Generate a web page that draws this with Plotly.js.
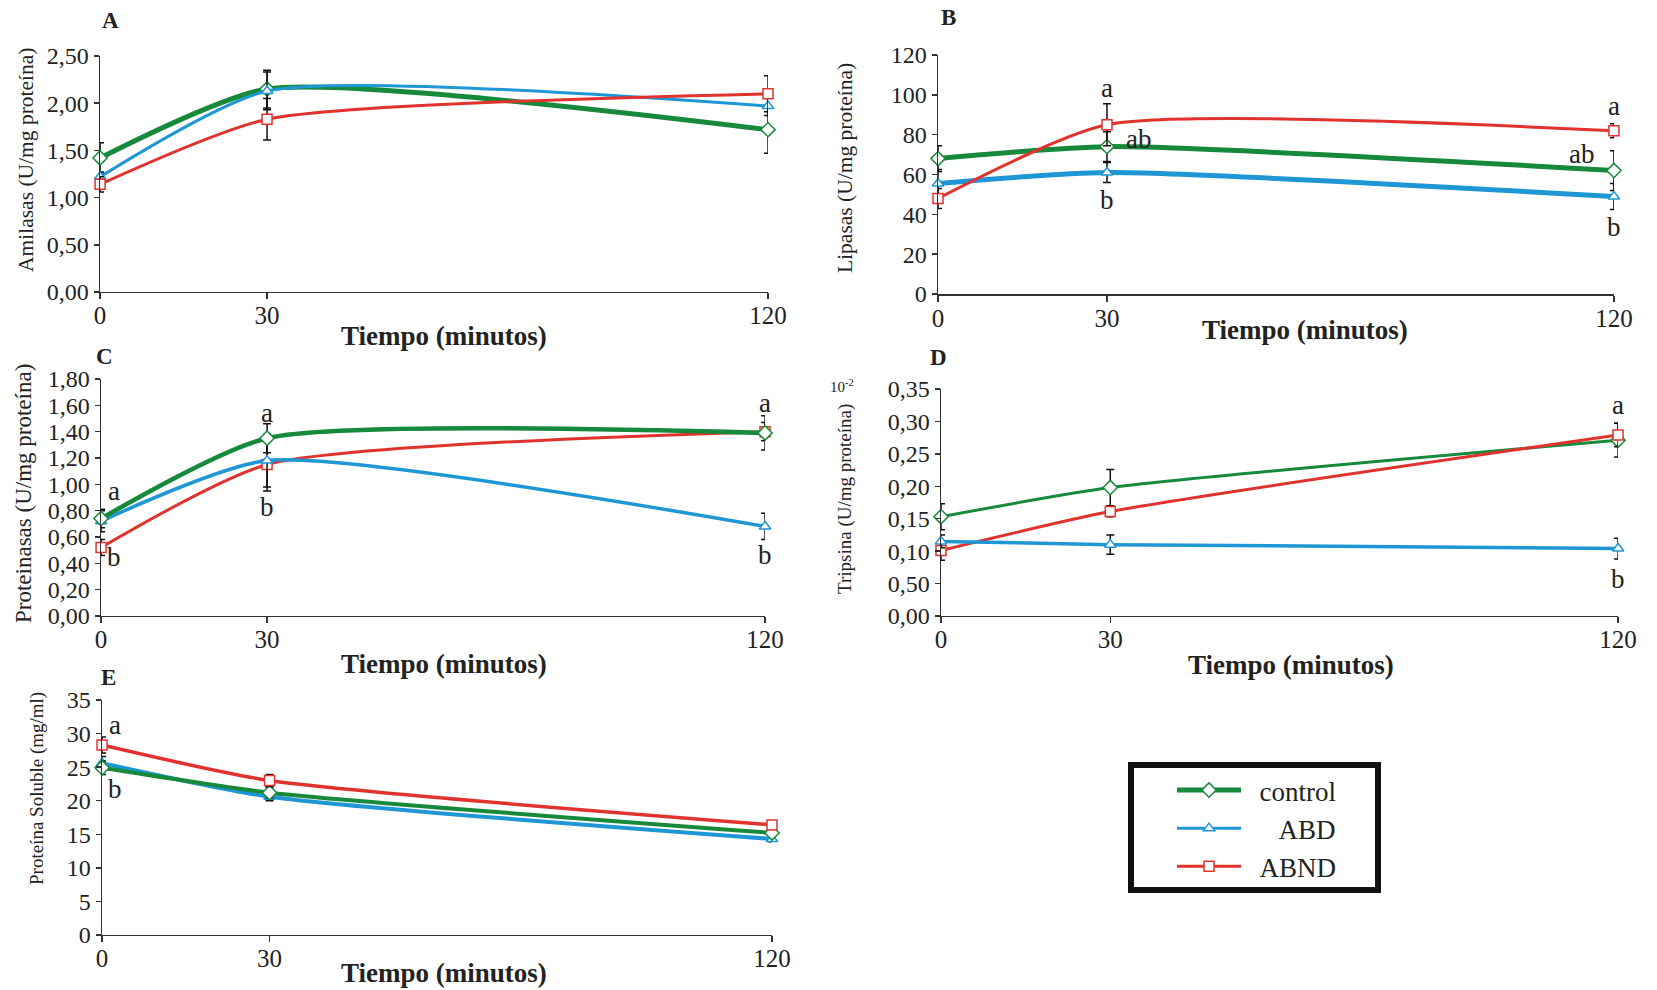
<!DOCTYPE html>
<html><head><meta charset="utf-8">
<script src="https://cdn.plot.ly/plotly-3.0.1.min.js"></script>
<style>html,body{margin:0;padding:0;background:#fff}#chart{width:1657px;height:990px}</style>
</head><body><div id="chart"></div>
<script>
// ---- data ----
const tiempo = [0, 30, 120];
const series = ['control', 'ABD', 'ABND'];

// A: Amilasas
const amilControl = [1.42, 2.15, 1.72];
const amilABD     = [1.22, 2.13, 1.97];
const amilABND    = [1.14, 1.83, 2.10];
const amilControlErr = [0.16, 0.20, 0.25];
const amilABDErr     = [0.05, 0.20, 0.10];
const amilABNDErr    = [0.08, 0.22, 0.19];

// B: Lipasas
const lipControl = [68, 74, 62];
const lipABD     = [55.5, 61, 49];
const lipABND    = [48, 85, 82];
const lipControlErr = [6.5, 7.5, 10];
const lipABDErr     = [7, 5, 6.5];
const lipABNDErr    = [5, 10.5, 3.5];

// C: Proteinasas
const protControl = [0.74, 1.35, 1.39];
const protABD     = [0.72, 1.18, 0.68];
const protABND    = [0.52, 1.15, 1.40];
const protControlErr = [0.07, 0.11, 0.13];
const protABDErr     = [0.08, 0.20, 0.10];
const protABNDErr    = [0.06, 0.20, 0.07];

// D: Tripsina (x10^-2)
const tripControl = [0.153, 0.198, 0.271];
const tripABD     = [0.115, 0.110, 0.104];
const tripABND    = [0.101, 0.161, 0.279];
const tripControlErr = [0.020, 0.028, 0.026];
const tripABDErr     = [0.010, 0.015, 0.016];
const tripABNDErr    = [0.015, 0.008, 0.018];
const tripTickVals = [0, 0.05, 0.10, 0.15, 0.20, 0.25, 0.30, 0.35];
const tripTickText = ['0,00', '0,50', '0,10', '0,15', '0,20', '0,25', '0,30', '0,35'];

// E: Proteína soluble
const solControl = [24.9, 21.2, 15.2];
const solABD     = [25.6, 20.6, 14.3];
const solABND    = [28.3, 23.0, 16.4];
const solControlErr = [1.0, 0.8, 0.5];
const solABDErr     = [1.0, 0.6, 0.4];
const solABNDErr    = [1.2, 0.9, 0.5];

// titles
const xTitle = 'Tiempo (minutos)';
const yTitles = ['Amilasas (U/mg proteína)', 'Lipasas (U/mg proteína)', 'Proteinasas (U/mg proteína)', 'Tripsina (U/mg proteína)', 'Proteína Soluble (mg/ml)'];
const panelLetters = ['A', 'B', 'C', 'D', 'E'];

// significance letters [x, y, text, xshift]
const lettersB = [[30, 103.5, 'a', 0], [30, 78, 'ab', 32], [30, 47, 'b', 0], [120, 94.5, 'a', 0], [120, 70.5, 'ab', -32], [120, 33.5, 'b', 0]];
const lettersC = [[0, 0.95, 'a', 13], [0, 0.45, 'b', 13], [30, 1.54, 'a', 0], [30, 0.83, 'b', 0], [120, 1.62, 'a', 0], [120, 0.46, 'b', 0]];
const lettersD = [[120, 0.325, 'a', 0], [120, 0.057, 'b', 0]];
const lettersE = [[0, 31.3, 'a', 13], [0, 21.8, 'b', 13]];

// ---- style ----
const colors = {control: '#17893a', ABD: '#1f97d4', ABND: '#e0332e'};
const symbols = {control: 'diamond', ABD: 'triangle-up', ABND: 'square'};
const legendPad = {control: '\u2002', ABD: '\u2002\u2002\u2009', ABND: '\u2002'};
const serif = 'Liberation Serif';
const txt = '#222';
const smooth = 0.6;
const W = 1657, H = 990;

function mk(name, y, err, xa, ya, width, show) {
  return {
    x: tiempo, y: y, name: legendPad[name] + name, xaxis: xa, yaxis: ya, type: 'scatter', mode: 'lines+markers',
    line: {color: colors[name], width: width, shape: 'spline', smoothing: smooth},
    marker: {symbol: symbols[name], size: name === 'control' ? 11 : 10, color: '#fff', line: {color: colors[name], width: 1.5}},
    error_y: {type: 'data', array: err, visible: true, color: '#111', thickness: 1.5, width: 4},
    cliponaxis: false, showlegend: show, legendgroup: name
  };
}

const traces = [
  mk('control', amilControl, amilControlErr, 'x', 'y', 5, true),
  mk('ABD', amilABD, amilABDErr, 'x', 'y', 3, true),
  mk('ABND', amilABND, amilABNDErr, 'x', 'y', 3, true),
  mk('ABD', lipABD, lipABDErr, 'x2', 'y2', 5, false),
  mk('control', lipControl, lipControlErr, 'x2', 'y2', 5, false),
  mk('ABND', lipABND, lipABNDErr, 'x2', 'y2', 3, false),
  mk('ABND', protABND, protABNDErr, 'x3', 'y3', 3, false),
  mk('ABD', protABD, protABDErr, 'x3', 'y3', 3.5, false),
  mk('control', protControl, protControlErr, 'x3', 'y3', 4.5, false),
  mk('control', tripControl, tripControlErr, 'x4', 'y4', 3, false),
  mk('ABND', tripABND, tripABNDErr, 'x4', 'y4', 3, false),
  mk('ABD', tripABD, tripABDErr, 'x4', 'y4', 3.5, false),
  mk('ABD', solABD, solABDErr, 'x5', 'y5', 4, false),
  mk('control', solControl, solControlErr, 'x5', 'y5', 4, false),
  mk('ABND', solABND, solABNDErr, 'x5', 'y5', 3.5, false)
];

function xax(domain, anchor) {
  return {domain: domain, anchor: anchor, range: [0, 120], tickvals: tiempo, ticks: 'outside', ticklen: 6, tickwidth: 1.5,
    tickcolor: '#333', showline: true, linecolor: '#333', linewidth: 1.5, showgrid: false, zeroline: false,
    tickfont: {family: serif, size: 25, color: txt}, ticklabelstandoff: -5};
}
function yax(domain, anchor, range, dtick, fmt) {
  return {domain: domain, anchor: anchor, range: range, dtick: dtick, tickformat: fmt, ticks: 'outside', ticklen: 5, tickwidth: 1.5,
    tickcolor: '#333', showline: true, linecolor: '#333', linewidth: 1.5, showgrid: false, zeroline: false,
    tickfont: {family: serif, size: 24, color: txt}};
}

const yD = yax([0.3778, 0.6071], 'x4', [0, 0.35], 0.05, '');
yD.tickmode = 'array'; yD.tickvals = tripTickVals; yD.ticktext = tripTickText;

const annotations = [];
function paperText(text, px, py, size, angle) {
  annotations.push({x: px / W, y: 1 - py / H, xref: 'paper', yref: 'paper', text: text, showarrow: false,
    xanchor: 'center', yanchor: 'middle', textangle: angle || 0, font: {family: serif, size: size, color: txt}});
}
function letters(list, xr, yr) {
  list.forEach(l => annotations.push({x: l[0], y: l[1], xref: xr, yref: yr, text: l[2], showarrow: false, xshift: l[3],
    xanchor: 'center', yanchor: 'middle', font: {family: serif, size: 27, color: txt}}));
}
letters(lettersB, 'x2', 'y2');
letters(lettersC, 'x3', 'y3');
letters(lettersD, 'x4', 'y4');
letters(lettersE, 'x5', 'y5');

// panel letters
[[111, 20], [948, 17], [104, 356], [938, 357], [108, 677]].forEach((p, i) => paperText('<b>' + panelLetters[i] + '</b>', p[0], p[1], 23));
// x titles
[[444, 336], [1305, 330], [444, 664], [1291, 665], [444, 973]].forEach(p => paperText('<b>' + xTitle + '</b>', p[0], p[1], 27));
// y titles
[[26, 160, 21.5], [845, 168, 21.5], [23, 494, 23], [845, 499, 19], [37, 789, 19]].forEach((p, i) => paperText(yTitles[i], p[0], p[1], p[2], -90));
paperText('10<sup>-2</sup>', 842, 386, 15);

const layout = {
  width: W, height: H, margin: {l: 0, r: 0, t: 0, b: 0}, paper_bgcolor: '#fff', plot_bgcolor: '#fff',
  font: {family: serif, color: txt},
  separators: ',.',
  xaxis: xax([0.0604, 0.4635], 'y'),
  yaxis: yax([0.7051, 0.9434], 'x', [0, 2.5], 0.5, '.2f'),
  xaxis2: xax([0.5661, 0.9740], 'y2'),
  yaxis2: yax([0.7030, 0.9444], 'x2', [0, 120], 20, ''),
  xaxis3: xax([0.0610, 0.4617], 'y3'),
  yaxis3: yax([0.3778, 0.6172], 'x3', [0, 1.8], 0.2, '.2f'),
  xaxis4: xax([0.5679, 0.9765], 'y4'),
  yaxis4: yD,
  xaxis5: xax([0.0616, 0.4659], 'y5'),
  yaxis5: yax([0.0556, 0.2929], 'x5', [0, 35], 5, ''),
  showlegend: true,
  legend: {x: 1172 / W, y: 1 - 766 / H, xanchor: 'left', yanchor: 'top', bgcolor: 'rgba(0,0,0,0)',
    font: {family: serif, size: 27, color: txt}, itemwidth: 64, tracegroupgap: 0, traceorder: 'normal'},
  shapes: [{type: 'rect', xref: 'paper', yref: 'paper', x0: 1131 / W, x1: 1378 / W, y0: 1 - 890 / H, y1: 1 - 765 / H,
    line: {color: '#111', width: 6}, fillcolor: 'rgba(0,0,0,0)'}],
  annotations: annotations
};

Plotly.newPlot('chart', traces, layout, {displayModeBar: false, staticPlot: true});
</script>
</body></html>
